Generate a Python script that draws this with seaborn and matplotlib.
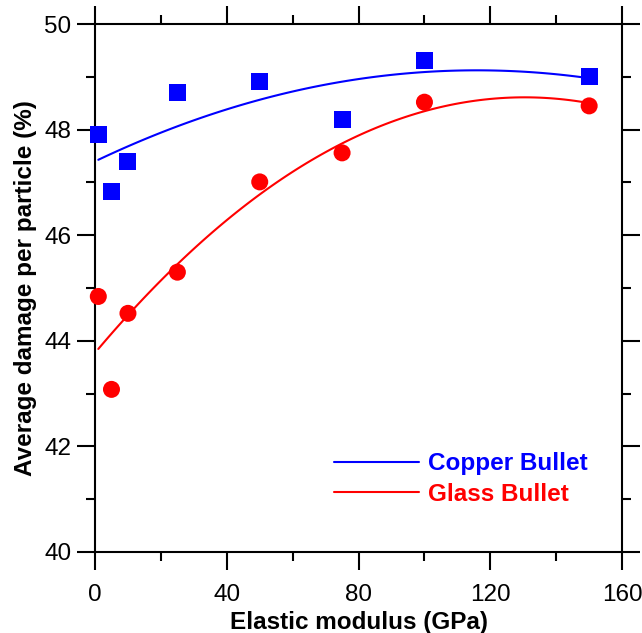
import numpy as np
import pandas as pd
import seaborn as sns
import matplotlib.pyplot as plt

# Data
modulus = [1, 5, 10, 25, 50, 75, 100, 150]
copper_damage = [47.91, 46.82, 47.40, 48.71, 48.91, 48.20, 49.31, 49.00]
glass_damage = [44.84, 43.08, 44.52, 45.30, 47.01, 47.56, 48.52, 48.45]
series_labels = ['Copper Bullet', 'Glass Bullet']

df = pd.DataFrame({'modulus': modulus, 'copper': copper_damage, 'glass': glass_damage})

sns.set_style('ticks')
plt.rcParams['font.family'] = ['Liberation Sans', 'DejaVu Sans']
plt.rcParams['text.color'] = 'black'
plt.rcParams['xtick.labelcolor'] = 'black'
plt.rcParams['ytick.labelcolor'] = 'black'
plt.rcParams['axes.labelcolor'] = 'black'

fig = plt.figure(figsize=(6.42, 6.33), dpi=100)
ax = fig.add_axes([0.148, 0.128, 0.821, 0.834])

# quadratic trend lines
sns.regplot(data=df, x='modulus', y='copper', order=2, ci=None, scatter=False, ax=ax,
            line_kws=dict(color='#0000ff', lw=1.5))
sns.regplot(data=df, x='modulus', y='glass', order=2, ci=None, scatter=False, ax=ax,
            line_kws=dict(color='#ff0000', lw=1.5))

# measured points
sns.scatterplot(data=df, x='modulus', y='copper', marker='s', s=150, color='#0000ff',
                edgecolor='none', ax=ax, clip_on=False, zorder=5)
sns.scatterplot(data=df, x='modulus', y='glass', marker='o', s=150, color='#ff0000',
                edgecolor='none', ax=ax, clip_on=False, zorder=5)

ax.set_xlim(0, 160)
ax.set_ylim(40, 50)
ax.set_xticks([0, 40, 80, 120, 160])
ax.set_xticks([20, 60, 100, 140], minor=True)
ax.set_yticks([40, 42, 44, 46, 48, 50])
ax.set_yticks([41, 43, 45, 47, 49], minor=True)

for side in ['top', 'right', 'left', 'bottom']:
    ax.spines[side].set_visible(True)
    ax.spines[side].set_linewidth(1.5)
    ax.spines[side].set_color('black')

ax.tick_params(which='both', direction='out', top=True, right=True,
               width=1.5, color='black')
ax.tick_params(which='major', length=13, labelsize=17.5, pad=4)
ax.tick_params(which='minor', length=6.5)
ax.tick_params(axis='x', which='major', pad=10)

ax.set_xlabel('Elastic modulus (GPa)', fontsize=17.5, fontweight='bold', labelpad=4)
ax.set_ylabel('Average damage per particle (%)', fontsize=17.5, fontweight='bold', labelpad=5)

trend_lines = ax.lines[:2]
ax.legend(trend_lines, series_labels, loc='lower right', bbox_to_anchor=(0.935, 0.088),
          frameon=False, labelcolor='linecolor', handlelength=3.5,
          prop=dict(weight='bold', size=17.5), labelspacing=0.3, handletextpad=0.37,
          borderpad=0, borderaxespad=0)

fig.savefig('out.png', dpi=100)
